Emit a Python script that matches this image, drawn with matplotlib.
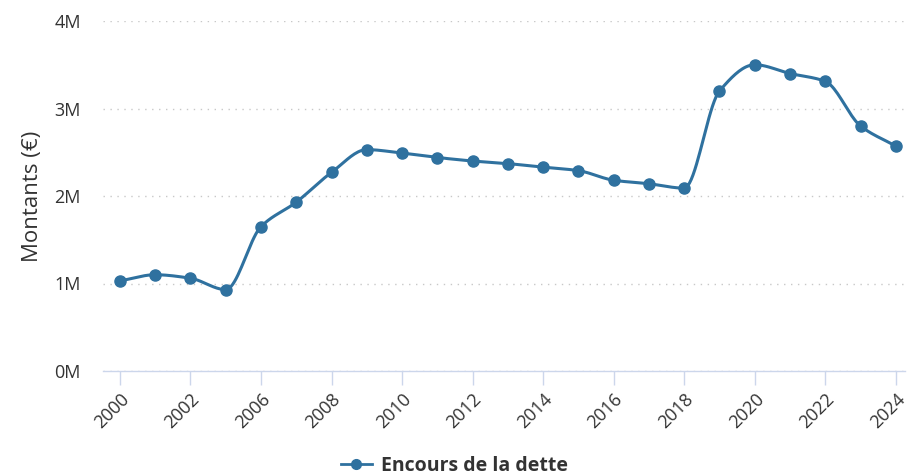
import matplotlib as mpl
mpl.use('Agg')
import matplotlib.pyplot as plt
from matplotlib.lines import Line2D
import numpy as np

plt.rcParams['font.family'] = ['Open Sans', 'DejaVu Sans']

# données
years = ['2000', '2001', '2002', '2003', '2006', '2007', '2008', '2009', '2010',
         '2011', '2012', '2013', '2014', '2015', '2016', '2017', '2018', '2019',
         '2020', '2021', '2022', '2023', '2024']
encours = [1.03, 1.10, 1.06, 0.93, 1.65, 1.93, 2.27, 2.53, 2.49,
           2.44, 2.40, 2.37, 2.33, 2.29, 2.18, 2.14, 2.09, 3.20,
           3.50, 3.40, 3.31, 2.80, 2.57]  # en millions d'euros
y_ticks = [0, 1, 2, 3, 4]
y_tick_labels = ['0M', '1M', '2M', '3M', '4M']
series_name = 'Encours de la dette'

color = '#2f719f'
text_color = '#333333'


def monotone_curve(x, y, n=20):
    # interpolation cubique monotone (Fritsch-Carlson), comme une courbe "spline" web
    x = np.asarray(x, float)
    y = np.asarray(y, float)
    h = np.diff(x)
    d = np.diff(y) / h
    m = np.zeros_like(y)
    m[0], m[-1] = d[0], d[-1]
    for i in range(1, len(y) - 1):
        if d[i - 1] * d[i] <= 0:
            m[i] = 0
        else:
            w1 = 2 * h[i] + h[i - 1]
            w2 = h[i] + 2 * h[i - 1]
            m[i] = (w1 + w2) / (w1 / d[i - 1] + w2 / d[i])
    xs, ys = [], []
    for i in range(len(x) - 1):
        t = np.linspace(0, 1, n, endpoint=(i == len(x) - 2))
        h00 = 2 * t**3 - 3 * t**2 + 1
        h10 = t**3 - 2 * t**2 + t
        h01 = -2 * t**3 + 3 * t**2
        h11 = t**3 - t**2
        xs.append(x[i] + t * h[i])
        ys.append(h00 * y[i] + h10 * h[i] * m[i] + h01 * y[i + 1] + h11 * h[i] * m[i + 1])
    return np.concatenate(xs), np.concatenate(ys)


fig = plt.figure(figsize=(9.09, 4.75), dpi=100)
ax = fig.add_axes([103 / 909, 104 / 475, 802 / 909, 350 / 475])

idx = np.arange(len(years))
cx, cy = monotone_curve(idx, encours)
ax.plot(cx, cy, color=color, lw=2.2, solid_capstyle='round', zorder=3)
ax.plot(idx, encours, 'o', color=color, ms=8, zorder=4)

ax.set_xlim(-0.48, 22.26)
ax.set_ylim(0, 4)

ax.set_xticks(idx[::2])
ax.set_xticklabels(years[::2], rotation=45, ha='right', rotation_mode='anchor',
                   fontsize=13, color=text_color)
ax.set_yticks(y_ticks)
ax.set_yticklabels(y_tick_labels, fontsize=13, color=text_color)

ax.grid(axis='y', linestyle=(0, (1, 4)), color='#c8c8c8', lw=1)
ax.set_axisbelow(True)
for s in ['top', 'right', 'left']:
    ax.spines[s].set_visible(False)
ax.spines['bottom'].set_color('#ccd6eb')
ax.spines['bottom'].set_linewidth(1)
ax.tick_params(axis='x', length=10, width=1, color='#ccd6eb', pad=4)
ax.tick_params(axis='y', length=0, pad=16)

ax.set_ylabel('Montants (€)', fontsize=16, color=text_color, labelpad=8)

handle = Line2D([], [], color=color, lw=2, marker='o', ms=7)
fig.legend([handle], [series_name], loc='center', bbox_to_anchor=(0.5, 9 / 475),
           frameon=False, handlelength=1.6, handletextpad=0.5,
           prop={'size': 14, 'weight': 'bold'}, labelcolor=text_color)

plt.savefig('out.png', dpi=100)
plt.close()
